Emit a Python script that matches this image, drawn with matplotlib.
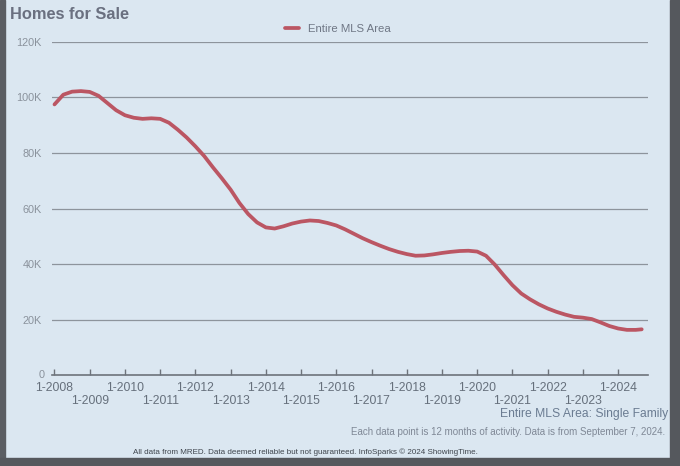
import numpy as np
import matplotlib.pyplot as plt
from matplotlib.patches import Rectangle

plt.rcParams['font.family'] = ['Liberation Sans', 'DejaVu Sans']

# quarterly readings (year fraction, homes for sale in thousands)
years = [2008.00, 2008.25, 2008.50, 2008.75, 2009.00, 2009.25, 2009.50, 2009.75,
         2010.00, 2010.25, 2010.50, 2010.75, 2011.00, 2011.25, 2011.50, 2011.75,
         2012.00, 2012.25, 2012.50, 2012.75, 2013.00, 2013.25, 2013.50, 2013.75,
         2014.00, 2014.25, 2014.50, 2014.75, 2015.00, 2015.25, 2015.50, 2015.75,
         2016.00, 2016.25, 2016.50, 2016.75, 2017.00, 2017.25, 2017.50, 2017.75,
         2018.00, 2018.25, 2018.50, 2018.75, 2019.00, 2019.25, 2019.50, 2019.75,
         2020.00, 2020.25, 2020.50, 2020.75, 2021.00, 2021.25, 2021.50, 2021.75,
         2022.00, 2022.25, 2022.50, 2022.75, 2023.00, 2023.25, 2023.50, 2023.75,
         2024.00, 2024.25, 2024.50, 2024.67]
homes_k = [97.5, 101.0, 102.1, 102.3, 102.0, 100.6, 98.0, 95.4,
           93.6, 92.7, 92.3, 92.5, 92.3, 90.9, 88.4, 85.6,
           82.4, 78.9, 74.8, 70.9, 66.8, 62.0, 58.0, 55.0,
           53.2, 52.8, 53.6, 54.6, 55.3, 55.7, 55.5, 54.8,
           53.9, 52.5, 50.9, 49.3, 47.9, 46.6, 45.4, 44.4,
           43.6, 43.0, 43.1, 43.5, 44.0, 44.4, 44.7, 44.8,
           44.5, 43.0, 39.8, 36.0, 32.4, 29.4, 27.3, 25.5,
           24.0, 22.8, 21.8, 21.0, 20.7, 20.2, 19.0, 17.7,
           16.8, 16.3, 16.3, 16.5]

tick_years = list(range(2008, 2025))
ytick_vals = [0, 20000, 40000, 60000, 80000, 100000, 120000]
ytick_labels = ['0', '20K', '40K', '60K', '80K', '100K', '120K']

bg = '#dbe7f1'
fig = plt.figure(figsize=(6.8, 4.66), dpi=100, facecolor=bg)
# dark screen edges from the photo
fig.patches.append(Rectangle((0, 0), 0.008, 1, transform=fig.transFigure, color='#5b5e63', zorder=0))
fig.patches.append(Rectangle((0.985, 0), 0.015, 1, transform=fig.transFigure, color='#55585d', zorder=0))
fig.patches.append(Rectangle((0, 0), 1, 0.017, transform=fig.transFigure, color='#55585d', zorder=0))

ax = fig.add_axes([0.076, 0.195, 0.877, 0.715])
ax.set_facecolor(bg)
ax.plot(years, np.array(homes_k) * 1000, color='#bb5663', lw=2.7, label='Entire MLS Area',
        solid_capstyle='round', solid_joinstyle='round')

ax.set_ylim(0, 120000)
ax.set_xlim(2007.92, 2024.85)
ax.set_yticks(ytick_vals[1:])
ax.set_yticklabels(ytick_labels[1:])
ax.tick_params(axis='y', length=0, pad=7, labelsize=7.8, labelcolor='#8a929c')
ax.grid(axis='y', color='#8d949c', lw=0.9)
ax.text(-0.012, 0, '0', transform=ax.get_yaxis_transform(), ha='right', va='center',
        fontsize=7.8, color='#8a929c')

xlabels = [('1-%d' % y) if (y - 2008) % 2 == 0 else ('\n1-%d' % y) for y in tick_years]
ax.set_xticks(tick_years)
ax.set_xticklabels(xlabels, linespacing=1.12)
ax.tick_params(axis='x', direction='in', length=4, width=1, color='#6d737b',
               labelsize=8.8, labelcolor='#66707c', pad=5)
for s in ['top', 'right', 'left']:
    ax.spines[s].set_visible(False)
ax.spines['bottom'].set_color('#6d737b')
ax.spines['bottom'].set_linewidth(1.2)

fig.text(0.014, 0.968, 'Homes for Sale', fontsize=11.8, fontweight='bold', color='#6a7080',
         ha='left', va='center')
fig.legend(loc='center', bbox_to_anchor=(0.497, 0.938), frameon=False, fontsize=8.2,
           handlelength=1.2, labelcolor='#6f7785')

fig.text(0.983, 0.112, 'Entire MLS Area: Single Family', fontsize=8.7, color='#6b7c92',
         ha='right', va='center')
fig.text(0.978, 0.073, 'Each data point is 12 months of activity. Data is from September 7, 2024.',
         fontsize=7, color='#7f8896', ha='right', va='center')
fig.text(0.196, 0.030, 'All data from MRED. Data deemed reliable but not guaranteed. InfoSparks \u00a9 2024 ShowingTime.',
         fontsize=5.8, color='#3e444c', ha='left', va='center')

fig.savefig('out.png', dpi=100, facecolor=fig.get_facecolor())
